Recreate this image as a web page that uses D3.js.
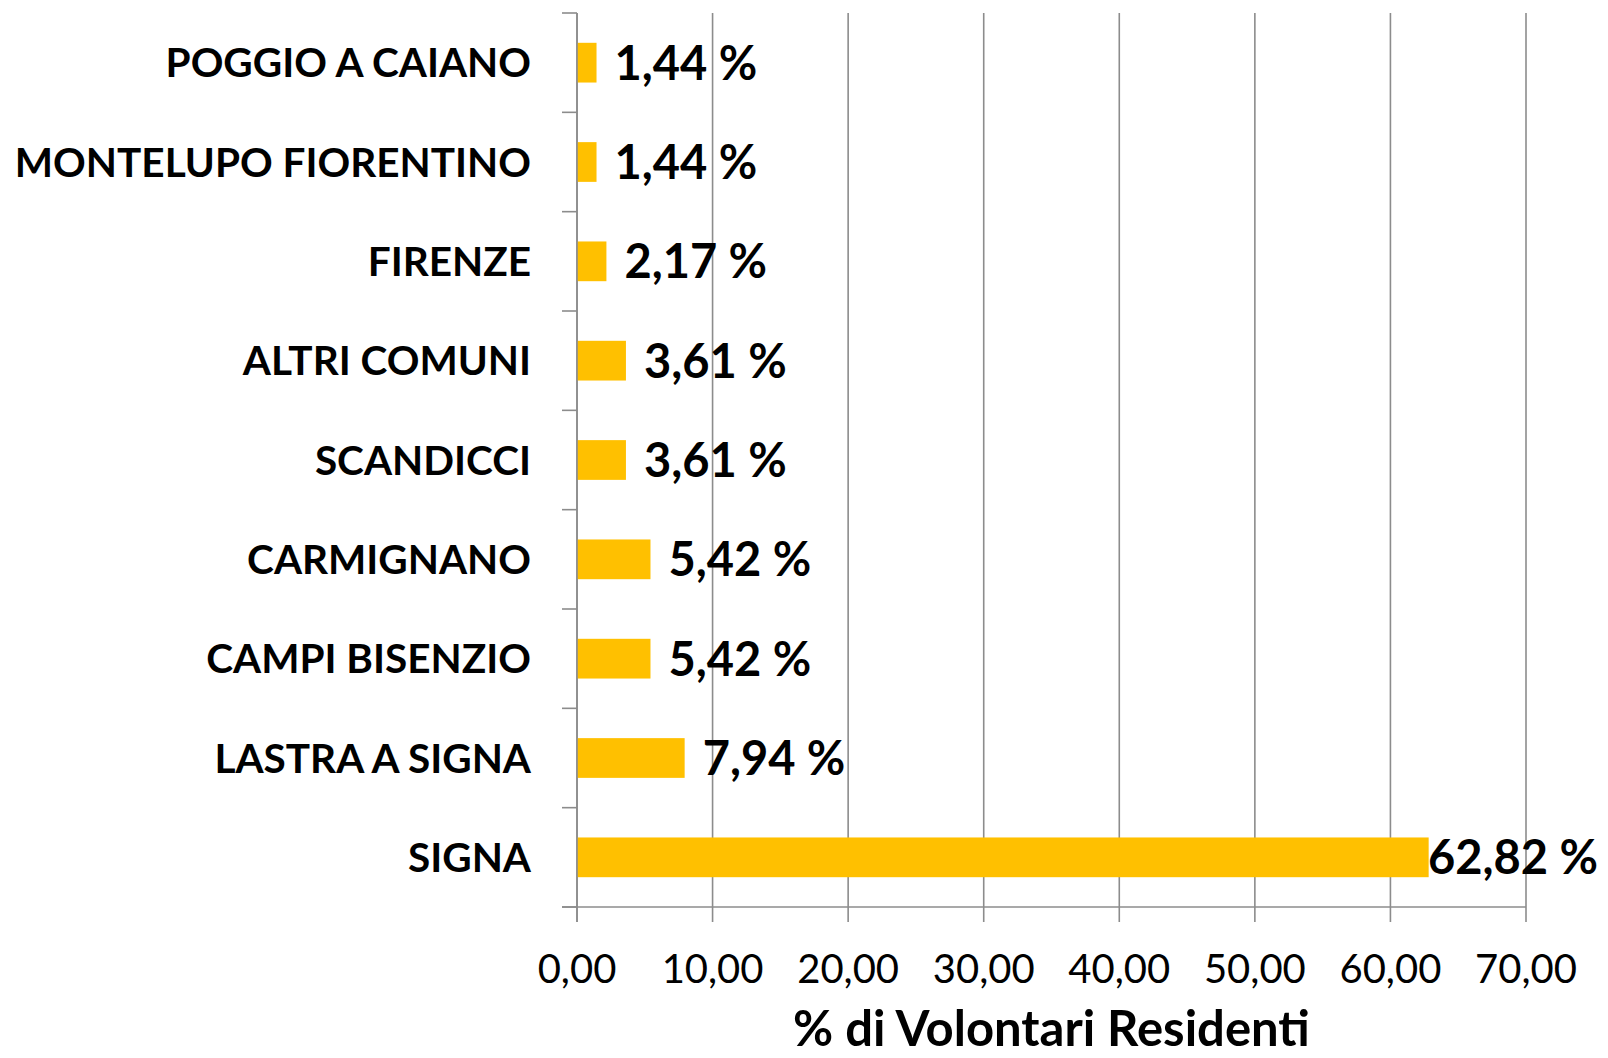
<!DOCTYPE html>
<html>
<head>
<meta charset="utf-8">
<script src="https://cdn.jsdelivr.net/npm/d3@7"></script>
<style>
  body { margin: 0; background: #fff; }
  svg { display: block; }
</style>
</head>
<body>
<div id="chart"></div>
<script>
// data
const comuni = ["SIGNA", "LASTRA A SIGNA", "CAMPI BISENZIO", "CARMIGNANO", "SCANDICCI",
                "ALTRI COMUNI", "FIRENZE", "MONTELUPO FIORENTINO", "POGGIO A CAIANO"];
const percentuali = [62.82, 7.94, 5.42, 5.42, 3.61, 3.61, 2.17, 1.44, 1.44];
const xTicks = [0, 10, 20, 30, 40, 50, 60, 70];
const xTitle = "% di Volontari Residenti";

let dimensions = {
  width: 1608,
  height: 1058,
  margin: {
    top: 13,
    right: 82,
    bottom: 151,
    left: 577,
  },
};
dimensions.boundedWidth = dimensions.width - dimensions.margin.left - dimensions.margin.right;
dimensions.boundedHeight = dimensions.height - dimensions.margin.top - dimensions.margin.bottom;

const gridColor = "#8c8c8c";
const barColor = "#ffc000";
const fontFamily = "Lato, 'Open Sans', sans-serif";

const wrapper = d3.select("#chart")
  .append("svg")
  .attr("width", dimensions.width)
  .attr("height", dimensions.height);

const bounds = wrapper.append("g")
  .attr("transform", `translate(${dimensions.margin.left},${dimensions.margin.top})`);

const x = d3.scaleLinear()
  .domain([0, 70])
  .range([0, dimensions.boundedWidth]);

// first category at the bottom
const y = d3.scaleBand()
  .domain(comuni)
  .range([dimensions.boundedHeight, 0])
  .paddingInner(0.6)
  .paddingOuter(0.3);

const bandEdges = d3.range(comuni.length + 1).map(i => dimensions.boundedHeight - i * dimensions.boundedHeight / comuni.length);

// vertical gridlines (with the little ticks under the axis)
bounds.append("g")
  .selectAll("line")
  .data(xTicks)
  .join("line")
  .attr("x1", d => x(d))
  .attr("x2", d => x(d))
  .attr("y1", 0)
  .attr("y2", dimensions.boundedHeight + 15)
  .attr("stroke", gridColor)
  .attr("stroke-width", 1.6);

// bottom axis line
bounds.append("line")
  .attr("x1", -15)
  .attr("x2", x(70))
  .attr("y1", dimensions.boundedHeight)
  .attr("y2", dimensions.boundedHeight)
  .attr("stroke", gridColor)
  .attr("stroke-width", 1.6);

// category ticks
bounds.append("g")
  .selectAll("line")
  .data(bandEdges)
  .join("line")
  .attr("x1", -15)
  .attr("x2", 0)
  .attr("y1", d => d)
  .attr("y2", d => d)
  .attr("stroke", gridColor)
  .attr("stroke-width", 1.6);

// bars
bounds.append("g")
  .selectAll("rect")
  .data(comuni)
  .join("rect")
  .attr("x", x(0))
  .attr("y", d => y(d))
  .attr("width", (d, i) => x(percentuali[i]) - x(0))
  .attr("height", y.bandwidth())
  .attr("fill", barColor);

// left axis line on top of bars
bounds.append("line")
  .attr("x1", 0)
  .attr("x2", 0)
  .attr("y1", 0)
  .attr("y2", dimensions.boundedHeight + 15)
  .attr("stroke", gridColor)
  .attr("stroke-width", 1.6);

// category labels
bounds.append("g")
  .selectAll("text")
  .data(comuni)
  .join("text")
  .attr("x", -46)
  .attr("y", d => y(d) + y.bandwidth() / 2)
  .attr("dy", "0.36em")
  .attr("text-anchor", "end")
  .style("font-family", fontFamily)
  .style("font-weight", "bold")
  .style("font-size", "40.5px")
  .text(d => d);

// value labels
const fmt = v => d3.format(".2f")(v).replace(".", ",") + " %";
const valueLabels = bounds.append("g")
  .selectAll("text")
  .data(comuni)
  .join("text")
  .attr("y", d => y(d) + y.bandwidth() / 2)
  .attr("dy", "0.36em")
  .style("font-family", fontFamily)
  .style("font-weight", "bold")
  .style("font-size", "47px")
  .text((d, i) => fmt(percentuali[i]));

// push the labels outside the bar end, but keep them inside the picture
valueLabels.each(function (d, i) {
  const w = this.getComputedTextLength();
  const maxX = dimensions.width - dimensions.margin.left - 10 - w;
  d3.select(this).attr("x", Math.min(x(percentuali[i]) + 18, maxX));
});

// x tick labels
bounds.append("g")
  .selectAll("text")
  .data(xTicks)
  .join("text")
  .attr("x", d => x(d))
  .attr("y", dimensions.boundedHeight + 76)
  .attr("text-anchor", "middle")
  .style("font-family", fontFamily)
  .style("font-size", "40px")
  .text(d => d3.format(".2f")(d).replace(".", ","));

// axis title
wrapper.append("text")
  .attr("x", dimensions.margin.left + dimensions.boundedWidth / 2)
  .attr("y", dimensions.height - 12)
  .attr("text-anchor", "middle")
  .style("font-family", fontFamily)
  .style("font-weight", "bold")
  .style("font-size", "49px")
  .text(xTitle);
</script>
</body>
</html>
